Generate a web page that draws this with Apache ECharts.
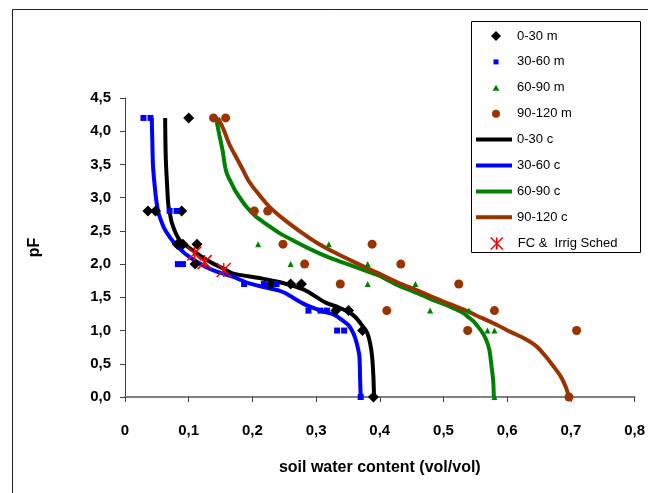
<!DOCTYPE html>
<html>
<head>
<meta charset="utf-8">
<title>pF curves</title>
<script src="https://cdn.jsdelivr.net/npm/echarts@6/dist/echarts.min.js"></script>
<style>
  html, body { margin: 0; padding: 0; background: #fff; }
  #chart { width: 648px; height: 493px; }
</style>
</head>
<body>
<div id="chart"></div>
<script>
// measured points: [soil water content, pF]
const measured0_30 = [
  [0.100, 4.2], [0.036, 2.8], [0.048, 2.8], [0.089, 2.8], [0.082, 2.3], [0.091, 2.3],
  [0.113, 2.3], [0.110, 2.0], [0.229, 1.7], [0.260, 1.7], [0.277, 1.7], [0.331, 1.3],
  [0.351, 1.3], [0.373, 1.0], [0.390, 0.0]
]
const measured30_60 = [
  [0.029, 4.2], [0.040, 4.2], [0.070, 2.8], [0.081, 2.8], [0.083, 2.0], [0.091, 2.0],
  [0.187, 1.7], [0.218, 1.7], [0.238, 1.7], [0.288, 1.3], [0.307, 1.3], [0.317, 1.3],
  [0.333, 1.0], [0.344, 1.0], [0.370, 0.0]
]
const measured60_90 = [
  [0.209, 2.3], [0.320, 2.3], [0.260, 2.0], [0.381, 2.0], [0.381, 1.7], [0.456, 1.7],
  [0.479, 1.3], [0.540, 1.3], [0.569, 1.0], [0.580, 1.0], [0.580, 0.0]
]
const measured90_120 = [
  [0.139, 4.2], [0.158, 4.2], [0.203, 2.8], [0.224, 2.8], [0.248, 2.3], [0.388, 2.3],
  [0.282, 2.0], [0.433, 2.0], [0.338, 1.7], [0.524, 1.7], [0.411, 1.3], [0.580, 1.3],
  [0.538, 1.0], [0.709, 1.0], [0.697, 0.0]
]

// fitted curves
const curve0_30 = [
  [0.063, 4.2], [0.064, 3.6], [0.066, 3.2], [0.068, 2.89], [0.070, 2.79], [0.073, 2.64],
  [0.079, 2.48], [0.086, 2.36], [0.096, 2.28], [0.110, 2.18], [0.125, 2.08], [0.140, 2.0],
  [0.155, 1.93], [0.169, 1.86], [0.211, 1.79], [0.242, 1.73], [0.280, 1.62], [0.315, 1.42],
  [0.335, 1.35], [0.351, 1.28], [0.362, 1.2], [0.372, 1.08], [0.380, 0.97], [0.385, 0.8],
  [0.388, 0.6], [0.390, 0.3], [0.391, 0.0]
]
const curve30_60 = [
  [0.042, 4.2], [0.043, 3.8], [0.044, 3.47], [0.047, 3.14], [0.049, 2.97], [0.052, 2.79],
  [0.056, 2.67], [0.062, 2.53], [0.070, 2.41], [0.080, 2.29], [0.094, 2.16], [0.112, 2.04],
  [0.138, 1.91], [0.169, 1.81], [0.195, 1.71], [0.242, 1.6], [0.252, 1.56], [0.283, 1.39],
  [0.310, 1.29], [0.328, 1.24], [0.342, 1.15], [0.351, 1.08], [0.359, 0.95], [0.364, 0.8],
  [0.368, 0.61], [0.369, 0.3], [0.370, 0.0]
]
const curve60_90 = [
  [0.143, 4.2], [0.148, 3.95], [0.153, 3.72], [0.159, 3.39], [0.169, 3.18], [0.174, 3.09],
  [0.190, 2.87], [0.205, 2.72], [0.222, 2.6], [0.242, 2.47], [0.267, 2.34], [0.294, 2.21],
  [0.320, 2.1], [0.346, 2.01], [0.372, 1.92], [0.398, 1.83], [0.429, 1.68], [0.460, 1.56],
  [0.481, 1.47], [0.500, 1.40], [0.517, 1.33], [0.530, 1.27], [0.538, 1.21], [0.548, 1.13],
  [0.554, 1.06], [0.561, 0.97], [0.567, 0.86], [0.572, 0.71], [0.575, 0.5], [0.578, 0.25],
  [0.579, 0.0]
]
const curve90_120 = [
  [0.146, 4.2], [0.155, 4.02], [0.164, 3.8], [0.175, 3.6], [0.185, 3.42], [0.195, 3.24],
  [0.210, 3.05], [0.226, 2.87], [0.250, 2.67], [0.278, 2.47], [0.303, 2.31], [0.330, 2.17],
  [0.360, 2.03], [0.398, 1.86], [0.429, 1.72], [0.460, 1.6], [0.481, 1.51], [0.507, 1.41],
  [0.533, 1.31], [0.560, 1.19], [0.585, 1.08], [0.605, 0.98], [0.627, 0.88], [0.645, 0.77],
  [0.658, 0.64], [0.672, 0.47], [0.684, 0.31], [0.692, 0.15], [0.697, 0.0]
]

// field capacity / irrigation scheduling points
const fcIrrig = [[0.109, 2.16], [0.125, 2.03], [0.155, 1.91]]

const names = ['0-30 m', '30-60 m', '60-90 m', '90-120 m', '0-30 c', '30-60 c', '60-90 c', '90-120 c', 'FC &  Irrig Sched']
const colors = ['#000000', '#0000ff', '#008000', '#993300']

const font = "'Liberation Sans', Arial, sans-serif"
const comma = v => (v === 0 ? '0' : v.toFixed(1).replace('.', ','))

const chart = echarts.init(document.getElementById('chart'))

const measuredSets = [measured0_30, measured30_60, measured60_90, measured90_120]
const curveSets = [curve0_30, curve30_60, curve60_90, curve90_120]
const markShapes = ['diamond', 'rect', 'triangle', 'circle']
const markSizes = [11, 6, 6, 9]
const starPath = 'path://M0,0L10,10M0,10L10,0M5,0L5,10'

// legend icons: a 36px wide box, the marker sits at x=20
// (the two zero-length segments only stretch the box)
const legendIcons = [
  'path://M0,5L0,5M36,5L36,5M20,0L25,5L20,10L15,5Z',
  'path://M0,2.5L0,2.5M36,2.5L36,2.5M17.5,0L22.5,0L22.5,5L17.5,5Z',
  'path://M0,3L0,3M36,3L36,3M20,0L23.5,6L16.5,6Z',
  'path://M0,4L0,4M36,4L36,4M16,4A4,4,0,1,1,24,4A4,4,0,1,1,16,4Z',
  'rect', 'rect', 'rect', 'rect',
  'path://M0,6L0,6M36,6L36,6M14,0L26,12M14,12L26,0M20,0L20,12'
]
const legendIconHeights = [10, 5, 6, 8, 4, 4, 4, 4, 12]
const legendColors = [...colors, ...colors, 'rgba(0,0,0,0)']

const series = []
curveSets.forEach((data, i) => {
  series.push({
    name: names[i + 4],
    type: 'line',
    data,
    smooth: 0.3,
    symbol: 'none',
    z: 2,
    lineStyle: { color: colors[i], width: 4 },
    itemStyle: { color: colors[i] }
  })
})
measuredSets.forEach((data, i) => {
  series.push({
    name: names[i],
    type: 'scatter',
    data,
    symbol: markShapes[i],
    symbolSize: markSizes[i],
    z: 3,
    itemStyle: { color: colors[i], opacity: 1 }
  })
})
series.push({
  name: names[8],
  type: 'scatter',
  data: fcIrrig,
  symbol: starPath,
  symbolSize: 14,
  z: 4,
  itemStyle: { color: 'rgba(0,0,0,0)', borderColor: '#ff0000', borderWidth: 1.5, opacity: 1 }
})

// one small legend per entry so every marker keeps its own size
const legends = names.map((name, i) => ({
  data: [{ name, icon: legendIcons[i] }],
  left: 476,
  top: 29.5 + i * 25.9,
  padding: 0,
  itemWidth: 36,
  itemHeight: legendIconHeights[i],
  itemStyle: i === 8
    ? { color: 'rgba(0,0,0,0)', borderColor: '#ff0000', borderWidth: 1.5 }
    : { color: legendColors[i], borderWidth: 0 },
  textStyle: { fontFamily: font, fontSize: 13, color: '#000' }
}))

chart.setOption({
  animation: false,
  backgroundColor: '#fff',
  grid: { left: 125, right: 10, top: 98, bottom: 96 },
  legend: legends,
  graphic: [
    {
      type: 'rect',
      shape: { x: 12.5, y: 9.5, width: 700, height: 600 },
      style: { fill: 'none', stroke: '#222', lineWidth: 1 },
      silent: true
    },
    {
      type: 'rect',
      shape: { x: 471.5, y: 21.5, width: 169, height: 231 },
      style: { fill: 'none', stroke: '#000', lineWidth: 1 },
      silent: true
    }
  ],
  xAxis: {
    type: 'value',
    min: 0,
    max: 0.8,
    interval: 0.1,
    name: 'soil water content (vol/vol)',
    nameLocation: 'middle',
    nameGap: 63,
    nameTextStyle: { fontFamily: font, fontSize: 16, fontWeight: 'bold', color: '#000' },
    axisLine: { lineStyle: { color: '#808080', width: 2 } },
    axisTick: { length: 5, lineStyle: { color: '#404040' } },
    axisLabel: { formatter: comma, margin: 26, fontFamily: font, fontSize: 15, fontWeight: 'bold', color: '#000' },
    splitLine: { show: false }
  },
  yAxis: {
    type: 'value',
    min: 0,
    max: 4.5,
    interval: 0.5,
    name: 'pF',
    nameLocation: 'middle',
    nameGap: 82,
    nameTextStyle: { fontFamily: font, fontSize: 16, fontWeight: 'bold', color: '#000' },
    axisLine: { show: true, lineStyle: { color: '#404040', width: 1 } },
    axisTick: { show: true, length: 5, lineStyle: { color: '#404040' } },
    axisLabel: { formatter: v => v.toFixed(1).replace('.', ','), margin: 14, fontFamily: font, fontSize: 15, fontWeight: 'bold', color: '#000' },
    splitLine: { show: false }
  },
  series
})
</script>
</body>
</html>
